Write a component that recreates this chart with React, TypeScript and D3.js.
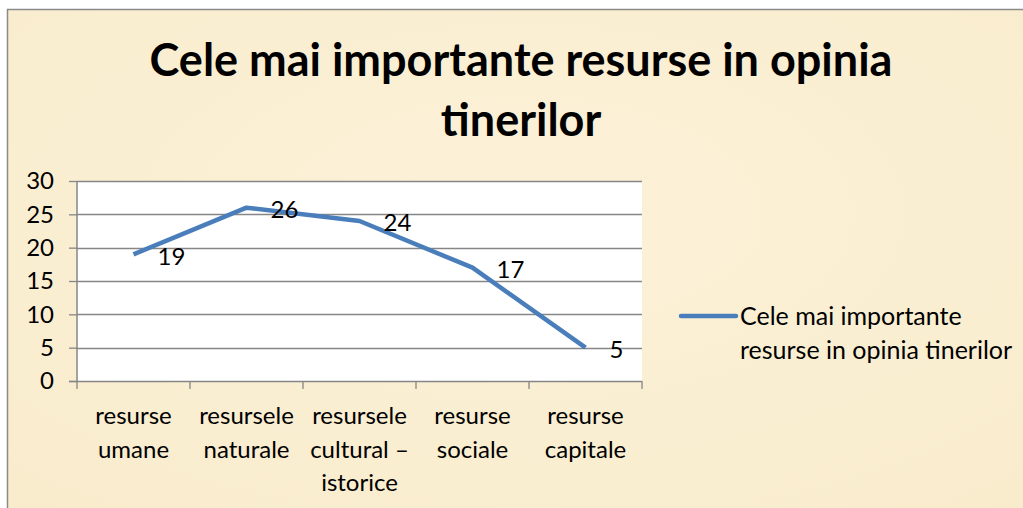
import React, { useEffect, useRef } from 'react';
import * as d3 from 'd3';

const categories = [
	['resurse', 'umane'],
	['resursele', 'naturale'],
	['resursele', 'cultural –', 'istorice'],
	['resurse', 'sociale'],
	['resurse', 'capitale'],
];
const values = [19, 26, 24, 17, 5];
const yTicks = [0, 5, 10, 15, 20, 25, 30];
const titleLines = ['Cele mai importante resurse in opinia', 'tinerilor'];
const legendLines = ['Cele mai importante', 'resurse in opinia tinerilor'];

const W = 1023;
const H = 508;
const FONT = 'Lato, "Open Sans", sans-serif';
const FS = 24;

const App: React.FC = () => {
	const svgRef = useRef<SVGSVGElement | null>(null);

	useEffect(() => {
		if (!svgRef.current) return;
		const svg = d3.select(svgRef.current);
		svg.selectAll('*').remove();

		// fundal
		const defs = svg.append('defs');
		const grad = defs
			.append('radialGradient')
			.attr('id', 'bg')
			.attr('cx', '50%')
			.attr('cy', '40%')
			.attr('r', '75%');
		grad.append('stop').attr('offset', '0%').attr('stop-color', '#fcf1d8');
		grad.append('stop').attr('offset', '100%').attr('stop-color', '#f9eccd');

		svg.append('rect').attr('width', W).attr('height', H).attr('fill', '#ffffff');
		svg
			.append('rect')
			.attr('x', 7.5)
			.attr('y', 9.5)
			.attr('width', W + 10)
			.attr('height', H)
			.attr('fill', 'url(#bg)')
			.attr('stroke', '#8a8a8a')
			.attr('stroke-width', 1.5);

		const left = 77;
		const right = 642;
		const top = 181;
		const bottom = 381;

		const x = d3
			.scaleBand<number>()
			.domain(d3.range(values.length))
			.range([left, right]);
		const y = d3.scaleLinear().domain([0, 30]).range([bottom, top]);

		// zona graficului
		svg
			.append('rect')
			.attr('x', left)
			.attr('y', top)
			.attr('width', right - left)
			.attr('height', bottom - top)
			.attr('fill', '#ffffff');

		svg
			.append('g')
			.selectAll('line')
			.data(yTicks.filter((d) => d > 0))
			.join('line')
			.attr('x1', left)
			.attr('x2', right)
			.attr('y1', (d) => Math.round(y(d)) + 0.5)
			.attr('y2', (d) => Math.round(y(d)) + 0.5)
			.attr('stroke', '#868686')
			.attr('stroke-width', 1.3);

		// axa y
		const yAxis = svg
			.append('g')
			.attr('transform', `translate(${left},0)`)
			.call(d3.axisLeft(y).tickValues(yTicks).tickSize(8).tickPadding(15));
		yAxis.select('.domain').attr('stroke', '#868686').attr('stroke-width', 1.5).attr('d', `M0,${top}V${bottom}`);
		yAxis.selectAll('.tick line').attr('stroke', '#868686').attr('stroke-width', 1.3);
		yAxis
			.selectAll('.tick text')
			.attr('font-family', FONT)
			.attr('font-size', FS)
			.attr('fill', '#000');

		// axa x
		const xAxis = svg.append('g').attr('transform', `translate(0,${bottom})`);
		xAxis
			.append('line')
			.attr('x1', left - 8)
			.attr('x2', right)
			.attr('y1', 0.5)
			.attr('y2', 0.5)
			.attr('stroke', '#868686')
			.attr('stroke-width', 1.5);
		xAxis
			.selectAll('line.tk')
			.data(d3.range(values.length + 1))
			.join('line')
			.attr('class', 'tk')
			.attr('x1', (i) => (i < values.length ? x(i)! : right))
			.attr('x2', (i) => (i < values.length ? x(i)! : right))
			.attr('y1', 0)
			.attr('y2', 8)
			.attr('stroke', '#868686')
			.attr('stroke-width', 1.3);

		xAxis
			.selectAll('text')
			.data(categories)
			.join('text')
			.attr('text-anchor', 'middle')
			.attr('font-family', FONT)
			.attr('font-size', FS)
			.attr('fill', '#000')
			.attr('transform', (_, i) => `translate(${x(i)! + x.bandwidth() / 2},0)`)
			.selectAll('tspan')
			.data((d) => d)
			.join('tspan')
			.attr('x', 0)
			.attr('y', (_, j) => 43 + j * 33.5)
			.text((d) => d);

		// linia
		const line = d3
			.line<number>()
			.x((_, i) => x(i)! + x.bandwidth() / 2)
			.y((d) => y(d));
		svg
			.append('path')
			.datum(values)
			.attr('d', line)
			.attr('fill', 'none')
			.attr('stroke', '#4a7ebb')
			.attr('stroke-width', 4.5)
			.attr('stroke-linejoin', 'round');

		svg
			.append('g')
			.selectAll('text')
			.data(values)
			.join('text')
			.attr('x', (_, i) => x(i)! + x.bandwidth() / 2 + 24)
			.attr('y', (d) => y(d) + 2)
			.attr('dy', '0.35em')
			.attr('font-family', FONT)
			.attr('font-size', FS)
			.attr('fill', '#000')
			.text((d) => d);

		// titlu
		svg
			.append('text')
			.attr('text-anchor', 'middle')
			.attr('font-family', FONT)
			.attr('font-weight', 'bold')
			.attr('font-size', 45)
			.attr('fill', '#000')
			.selectAll('tspan')
			.data(titleLines)
			.join('tspan')
			.attr('x', 521)
			.attr('y', (_, i) => 76 + i * 60)
			.text((d) => d);

		// legenda
		svg
			.append('line')
			.attr('x1', 681)
			.attr('x2', 736)
			.attr('y1', 316)
			.attr('y2', 316)
			.attr('stroke', '#4a7ebb')
			.attr('stroke-width', 4.5)
			.attr('stroke-linecap', 'round');
		svg
			.append('text')
			.attr('font-family', FONT)
			.attr('font-size', FS + 1)
			.attr('fill', '#000')
			.selectAll('tspan')
			.data(legendLines)
			.join('tspan')
			.attr('x', 740)
			.attr('y', (_, i) => 325 + i * 34)
			.text((d) => d);
	}, []);

	return (
		<svg
			ref={svgRef}
			width={W}
			height={H}
			style={{ position: 'absolute', left: 0, top: 0, display: 'block' }}
		></svg>
	);
};

export default App;
